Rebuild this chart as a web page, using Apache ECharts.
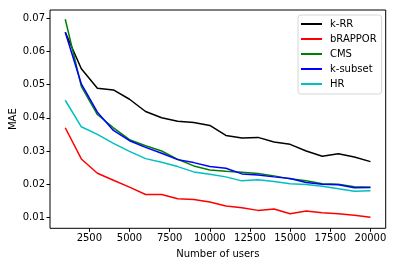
<!DOCTYPE html>
<html>
<head>
<meta charset="utf-8">
<script src="https://cdn.jsdelivr.net/npm/echarts@6/dist/echarts.min.js"></script>
<style>html,body{margin:0;padding:0;background:#fff}#c{width:395px;height:266px}</style>
</head>
<body>
<div id="c"></div>
<script>
const users = [1000,2000,3000,4000,5000,6000,7000,8000,9000,10000,11000,12000,13000,14000,15000,16000,17000,18000,19000,20000];
const kRR = [0.0658,0.0548,0.0489,0.0484,0.0456,0.0419,0.0400,0.0390,0.0386,0.0377,0.0347,0.0339,0.0341,0.0327,0.0320,0.0300,0.0284,0.0292,0.0282,0.0268];
const bRAPPOR = [0.0370,0.0276,0.0233,0.0212,0.0191,0.0169,0.0169,0.0156,0.0154,0.0146,0.0134,0.0129,0.0121,0.0125,0.0111,0.0119,0.0114,0.0111,0.0106,0.0100];
const CMS = [0.0697,0.0495,0.0410,0.0370,0.0334,0.0316,0.0300,0.0275,0.0255,0.0243,0.0239,0.0236,0.0232,0.0225,0.0216,0.0210,0.0201,0.0200,0.0192,0.0191];
const kSubset = [0.0658,0.0502,0.0417,0.0362,0.0331,0.0311,0.0293,0.0274,0.0265,0.0253,0.0248,0.0231,0.0228,0.0222,0.0217,0.0205,0.0200,0.0198,0.0189,0.0190];
const HR = [0.0453,0.0373,0.0350,0.0323,0.0299,0.0277,0.0266,0.0253,0.0237,0.0230,0.0222,0.0210,0.0213,0.0208,0.0201,0.0199,0.0194,0.0186,0.0179,0.0180];
const xTicks = [2500,5000,7500,10000,12500,15000,17500,20000];
const yTicks = [0.01,0.02,0.03,0.04,0.05,0.06,0.07];

const names = ['k-RR','bRAPPOR','CMS','k-subset','HR'];
const values = [kRR, bRAPPOR, CMS, kSubset, HR];
const colors = ['#000000','#ff0000','#008000','#0000ff','#00bfbf'];
const font = 'DejaVu Sans';

const chart = echarts.init(document.getElementById('c'), null, {renderer:'canvas'});
chart.setOption({
  animation:false,
  backgroundColor:'#fff',
  textStyle:{fontFamily:font},
  grid:{left:50,right:9.3,top:10,bottom:37.7,containLabel:false,outerBoundsMode:'none',show:true,borderColor:'#000',borderWidth:1,backgroundColor:'transparent'},
  legend:{
    orient:'vertical', left:298, top:15,
    data:names,
    icon:'rect', itemWidth:21, itemHeight:2, itemGap:3,
    padding:[3,5,4,3],
    borderColor:'#d6d6d6', borderWidth:1, borderRadius:3, backgroundColor:'#fff',
    textStyle:{fontFamily:font,fontSize:10,color:'#000',lineHeight:12,padding:[0,0,0,3]}
  },
  xAxis:{
    type:'value', min:50, max:20950,
    name:'Number of users', nameLocation:'middle', nameGap:21,
    nameTextStyle:{fontFamily:font,fontSize:10,color:'#000'},
    axisLine:{show:false},
    splitLine:{show:false},
    axisTick:{show:true,length:3.5,inside:false,customValues:xTicks,lineStyle:{color:'#000',width:1}},
    axisLabel:{customValues:xTicks,fontFamily:font,fontSize:10,color:'#000',margin:5,formatter:v=>String(v)}
  },
  yAxis:{
    type:'value', min:0.0067, max:0.0725,
    name:'MAE', nameLocation:'middle', nameGap:32, nameMoveOverlap:false,
    nameTextStyle:{fontFamily:font,fontSize:10,color:'#000'},
    axisLine:{show:false},
    splitLine:{show:false},
    axisTick:{show:true,length:3.5,inside:false,customValues:yTicks,lineStyle:{color:'#000',width:1}},
    axisLabel:{customValues:yTicks,fontFamily:font,fontSize:10,color:'#000',margin:5,formatter:v=>v.toFixed(2)}
  },
  series: names.map((n,i)=>({
    name:n, type:'line', symbol:'none', showSymbol:false,
    data: users.map((u,j)=>[u, values[i][j]]),
    lineStyle:{color:colors[i],width:1.5},
    itemStyle:{color:colors[i]},
    emphasis:{disabled:true}
  }))
});
</script>
</body>
</html>
